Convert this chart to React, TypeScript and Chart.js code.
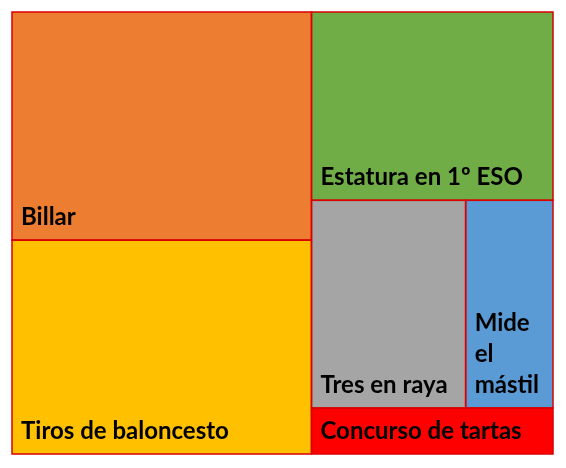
import React, { useEffect, useRef } from "react";
import { Chart, registerables } from "chart.js";

Chart.register(...registerables);

const categories = ["Billar", "Tiros de baloncesto", "Estatura en 1º ESO", "Tres en raya", "Mide el mástil", "Concurso de tartas"];
const values = [32, 30, 21.3, 15, 8.5, 5.2];
const colors = ["#ED7D31", "#FFC000", "#70AD47", "#A5A5A5", "#5B9BD5", "#FF0000"];
// groups of cells laid out as strips (treemap grouping)
const strips = [[0, 1], [2], [3, 4], [5]];

type Rect = { x0: number; y0: number; x1: number; y1: number; i: number };

function layout(aspect: number): Rect[] {
  const total = values.reduce((a, b) => a + b, 0);
  let rx = 0, ry = 0, rw = aspect, rh = 1;
  let remaining = total;
  const out: Rect[] = [];
  for (const strip of strips) {
    const sum = strip.reduce((a, i) => a + values[i], 0);
    const frac = sum / remaining;
    if (rw >= rh) {
      const w = rw * frac;
      let y = ry;
      for (const i of strip) {
        const h = rh * (values[i] / sum);
        out.push({ x0: rx, y0: y, x1: rx + w, y1: y + h, i });
        y += h;
      }
      rx += w; rw -= w;
    } else {
      const h = rh * frac;
      let x = rx;
      for (const i of strip) {
        const w = rw * (values[i] / sum);
        out.push({ x0: x, y0: ry, x1: x + w, y1: ry + h, i });
        x += w;
      }
      ry += h; rh -= h;
    }
    remaining -= sum;
  }
  return out.map(r => ({ ...r, x0: r.x0 / aspect, x1: r.x1 / aspect }));
}

const treemapPlugin = {
  id: "treemapCells",
  afterDatasetsDraw(chart: any) {
    const { ctx, chartArea, scales } = chart;
    const xs = scales.x, ys = scales.y;
    const aspect = (chartArea.right - chartArea.left) / (chartArea.bottom - chartArea.top);
    const rects = layout(aspect);
    ctx.save();
    for (const r of rects) {
      const px0 = xs.getPixelForValue(r.x0), px1 = xs.getPixelForValue(r.x1);
      const py0 = ys.getPixelForValue(r.y0), py1 = ys.getPixelForValue(r.y1);
      ctx.fillStyle = colors[r.i];
      ctx.fillRect(px0, py0, px1 - px0, py1 - py0);
    }
    ctx.strokeStyle = "#D80000";
    ctx.lineWidth = 1.5;
    for (const r of rects) {
      const px0 = xs.getPixelForValue(r.x0), px1 = xs.getPixelForValue(r.x1);
      const py0 = ys.getPixelForValue(r.y0), py1 = ys.getPixelForValue(r.y1);
      ctx.strokeRect(px0, py0, px1 - px0, py1 - py0);
    }
    ctx.fillStyle = "#000000";
    ctx.font = "bold 24px Lato";
    ctx.textBaseline = "alphabetic";
    ctx.textAlign = "left";
    const pad = 9;
    const lh = 31;
    for (const r of rects) {
      const px0 = xs.getPixelForValue(r.x0), px1 = xs.getPixelForValue(r.x1);
      const py1 = ys.getPixelForValue(r.y1);
      const maxW = px1 - px0 - 2 * pad;
      const words = categories[r.i].split(" ");
      const lines: string[] = [];
      let cur = "";
      for (const w of words) {
        const t = cur ? cur + " " + w : w;
        if (cur && ctx.measureText(t).width > maxW) {
          lines.push(cur);
          cur = w;
        } else cur = t;
      }
      if (cur) lines.push(cur);
      let y = py1 - 15 - (lines.length - 1) * lh;
      for (const l of lines) {
        ctx.fillText(l, px0 + pad, y);
        y += lh;
      }
    }
    ctx.restore();
  },
};

export default function App() {
  const ref = useRef<HTMLCanvasElement>(null);
  useEffect(() => {
    if (!ref.current) return;
    const chart = new Chart(ref.current, {
      type: "scatter",
      data: { datasets: [{ data: [] }] },
      options: {
        animation: false,
        responsive: true,
        maintainAspectRatio: false,
        layout: { padding: { left: 4, top: 4, right: 5, bottom: 6 } },
        scales: {
          x: { type: "linear", min: 0, max: 1, display: false },
          y: { type: "linear", min: 0, max: 1, reverse: true, display: false },
        },
        plugins: { legend: { display: false }, tooltip: { enabled: false } },
      },
      plugins: [treemapPlugin],
    });
    return () => chart.destroy();
  }, []);
  return (
    <div style={{ width: 550, height: 452, position: "relative" }}>
      <canvas ref={ref} />
    </div>
  );
}
